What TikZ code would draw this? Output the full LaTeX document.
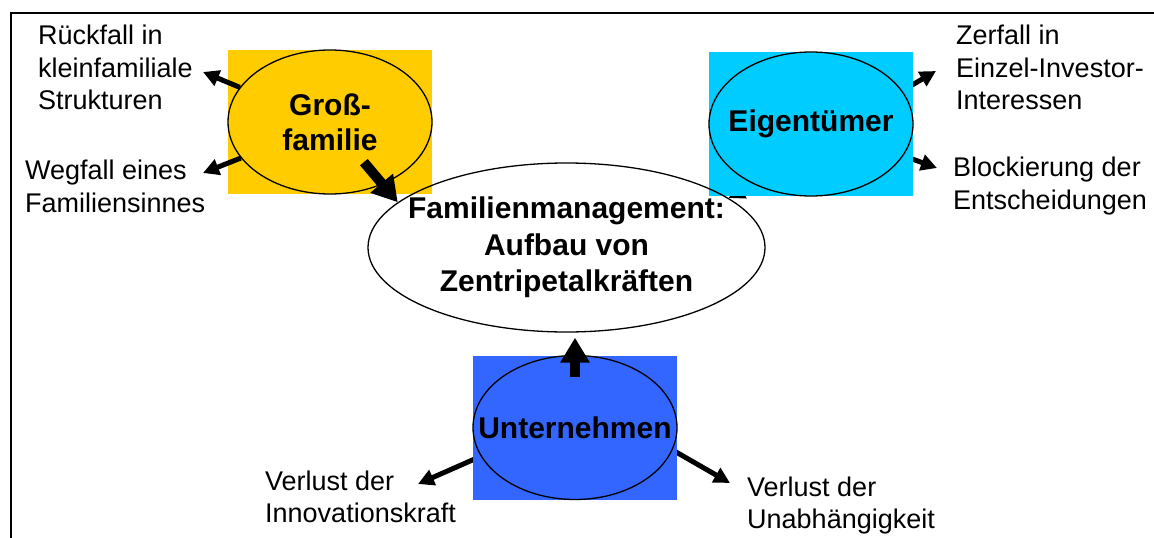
\documentclass[tikz,border=0pt]{standalone}
\usepackage{fontspec}
\setmainfont{Liberation Sans}
\usetikzlibrary{arrows.meta,calc,backgrounds,shapes.geometric}
\definecolor{gelb}{RGB}{255,204,0}
\definecolor{tuerkis}{RGB}{0,204,255}
\definecolor{blau}{RGB}{51,102,255}
\begin{document}
\begin{tikzpicture}
  [x=1pt,y=-1pt,
   box/.style={rectangle,minimum width=204pt,minimum height=144pt,inner sep=0pt},
   oval/.style={ellipse,draw,line width=1.3pt,minimum width=204pt,minimum height=144pt,inner ysep=0pt,inner xsep=-40pt,align=center,font=\fontsize{30}{35}\selectfont\bfseries},
   txt/.style={anchor=west,inner sep=0pt,align=left,font=\fontsize{27}{32.5}\selectfont},
   arr/.style={line width=5pt,-{Triangle[length=16pt,width=16pt]}},
   bigarr/.style={line width=10pt,-{Triangle[length=25pt,width=28pt]}}]
  \useasboundingbox (0,0) rectangle (1154,538);
  \draw[line width=2.5pt] (11,538) -- (11,13) -- (1154,13);
  % farbige Felder
  \node (grossbox)[box,fill=gelb] at (330,122) {};
  \node (eigbox)[box,fill=tuerkis] at (811,124) {};
  \node (untbox)[box,fill=blau] at (575,427.5) {};
  \node (gross)[oval] at (330,122) {Groß-\\familie};
  \node (eig)[oval] at (811,124) {Eigentümer};
  \node (unt)[oval] at (575,427.5) {Unternehmen};
  \node (fam)[oval,minimum width=397pt,minimum height=169pt,
    font=\fontsize{30}{36.5}\selectfont\bfseries] at (566.5,247.5) {Familienmanagement:\\Aufbau von\\Zentripetalkräften};
  % Folgen
  \node (rueck)[txt] at (38,67.7) {Rückfall in\\kleinfamiliale\\Strukturen};
  \node (wegfall)[txt] at (25,186.2) {Wegfall eines\\Familiensinnes};
  \node (zerfall)[txt] at (956,67.7) {Zerfall in\\Einzel-Investor-\\Interessen};
  \node (block)[txt] at (953,186) {Blockierung der\\Entscheidungen};
  \node (innov)[txt] at (265,496.7) {Verlust der\\Innovationskraft};
  \node (unabh)[txt] at (747,505.5) {Verlust der\\Unabhängigkeit};
  \coordinate (t1) at (203,72);
  \coordinate (t2) at (203,173);
  \coordinate (t3) at (936,71);
  \coordinate (t4) at (937,168);
  \coordinate (t5) at (418,484);
  \coordinate (t6) at (730,483);
  \coordinate (e1) at ($(eig.south)+(0,-40)$);
  \foreach \from/\to in {gross.159/t1,gross.202/t2}
    \draw[arr] (\from) -- (\to);
  \begin{scope}[on background layer]
    \foreach \from/\to in {eig.20/t3,eig.-19/t4,unt.197/t5,unt.-13/t6,e1/fam.17}
      \draw[arr] (\from) -- (\to);
  \end{scope}
  \draw[bigarr] ($(gross)!.5!(fam.165)$) -- (fam.165);
  \draw[bigarr,shorten >=5pt] ($(unt.north)+(0,22)$) -- (unt.north |- fam.south);
\end{tikzpicture}
\end{document}
